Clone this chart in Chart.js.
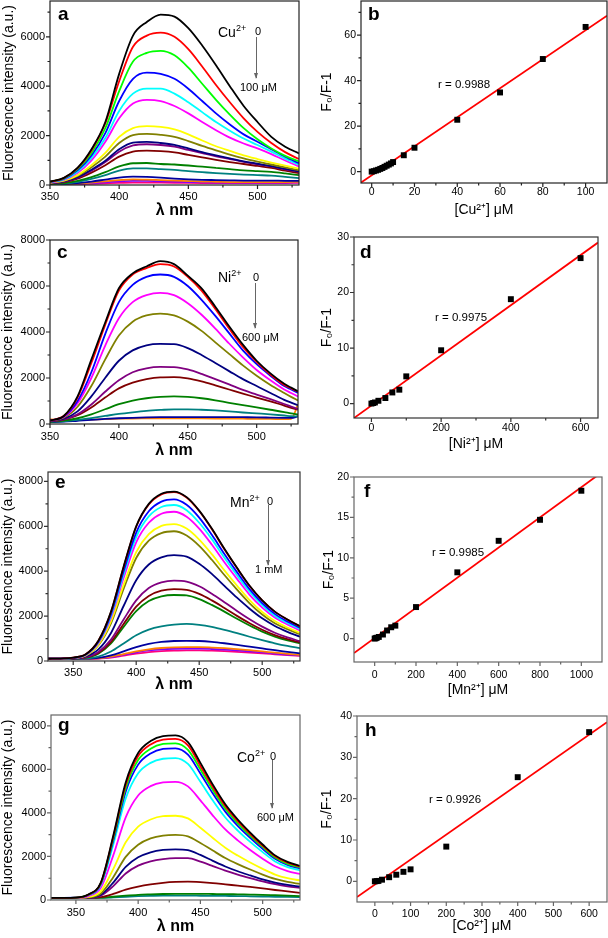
<!DOCTYPE html>
<html>
<head>
<meta charset="utf-8">
<script src="https://cdn.jsdelivr.net/npm/chart.js@4.4.0/dist/chart.umd.min.js"></script>
<style>
  body { margin: 0; background: #fff; }
  #fig { position: relative; width: 608px; height: 938px; overflow: hidden; font-family: Arial, "Liberation Sans", Helvetica, sans-serif; color: #000; }
  canvas { position: absolute; }
  .t { position: absolute; line-height: 1; white-space: nowrap; }
  .let { font-size: 19px; font-weight: bold; }
  .ion { font-size: 14px; }
  .sm { font-size: 11px; }
  .rr { font-size: 11.5px; }
  .sp { font-size: 9px; position: relative; top: -6px; }
  .arr { position: absolute; width: 0; border-left: 1.3px solid #666; }
  .arr::after { content: ''; position: absolute; left: -3.2px; bottom: -1px; border-left: 2.6px solid transparent; border-right: 2.6px solid transparent; border-top: 6px solid #666; }
</style>
</head>
<body>
<div id="fig">
  <canvas id="cA"></canvas>
  <canvas id="cB"></canvas>
  <canvas id="cC"></canvas>
  <canvas id="cD"></canvas>
  <canvas id="cE"></canvas>
  <canvas id="cF"></canvas>
  <canvas id="cG"></canvas>
  <canvas id="cH"></canvas>

  <div class="t let" style="left:58px;top:4px">a</div>
  <div class="t let" style="left:368px;top:4px">b</div>
  <div class="t let" style="left:57px;top:242px">c</div>
  <div class="t let" style="left:360px;top:242px">d</div>
  <div class="t let" style="left:55px;top:472px">e</div>
  <div class="t let" style="left:364px;top:481px">f</div>
  <div class="t let" style="left:58px;top:715px">g</div>
  <div class="t let" style="left:365px;top:720px">h</div>

  <div class="t ion" style="left:218px;top:25px">Cu<span class="sp">2+</span></div>
  <div class="t sm" style="left:255px;top:26px">0</div>
  <div class="arr" style="left:256px;top:37px;height:41px"></div>
  <div class="t sm" style="left:240px;top:82px">100 μM</div>

  <div class="t ion" style="left:218px;top:270px">Ni<span class="sp">2+</span></div>
  <div class="t sm" style="left:253px;top:272px">0</div>
  <div class="arr" style="left:255px;top:283px;height:45px"></div>
  <div class="t sm" style="left:242px;top:332px">600 μM</div>

  <div class="t ion" style="left:230px;top:495px">Mn<span class="sp">2+</span></div>
  <div class="t sm" style="left:267px;top:496px">0</div>
  <div class="arr" style="left:268px;top:505px;height:60px"></div>
  <div class="t sm" style="left:255px;top:564px">1 mM</div>

  <div class="t ion" style="left:237px;top:750px">Co<span class="sp">2+</span></div>
  <div class="t sm" style="left:270px;top:751px">0</div>
  <div class="arr" style="left:272px;top:760px;height:48px"></div>
  <div class="t sm" style="left:257px;top:812px">600 μM</div>

  <div class="t rr" style="left:438px;top:79px">r = 0.9988</div>
  <div class="t rr" style="left:435px;top:312px">r = 0.9975</div>
  <div class="t rr" style="left:432px;top:547px">r = 0.9985</div>
  <div class="t rr" style="left:429px;top:794px">r = 0.9926</div>
</div>

<script>
// ---- panel a : Cu2+ quenching spectra ----
var WL_A = [350, 360, 370, 380, 390, 400, 410, 420, 430, 440, 450, 460, 470, 480, 490, 500, 510, 520, 530];
var CU_0 = [140, 290, 700, 1450, 2550, 4500, 6050, 6600, 6900, 6820, 6350, 5650, 4850, 4000, 3200, 2550, 1950, 1550, 1280];
var CU_1 = [130, 280, 680, 1400, 2500, 4200, 5600, 6050, 6170, 6000, 5500, 4800, 4050, 3350, 2700, 2150, 1700, 1330, 1050];
var CU_2 = [130, 270, 650, 1300, 2300, 3800, 5000, 5350, 5430, 5250, 4750, 4100, 3450, 2850, 2300, 1850, 1480, 1180, 950];
var CU_3 = [120, 250, 600, 1200, 2100, 3400, 4300, 4550, 4500, 4300, 3900, 3400, 2900, 2450, 2050, 1750, 1450, 1150, 880];
var CU_4 = [110, 230, 550, 1100, 1900, 3000, 3700, 3900, 3900, 3700, 3350, 2950, 2550, 2200, 1880, 1620, 1350, 1070, 820];
var CU_5 = [100, 210, 500, 1000, 1750, 2700, 3300, 3450, 3400, 3200, 2900, 2550, 2220, 1920, 1680, 1480, 1250, 990, 750];
var CU_6 = [90, 180, 400, 800, 1300, 1950, 2300, 2380, 2350, 2250, 2050, 1800, 1570, 1380, 1200, 1050, 910, 780, 660];
var CU_7 = [80, 170, 370, 720, 1150, 1700, 2020, 2070, 2030, 1950, 1780, 1580, 1400, 1230, 1080, 950, 830, 710, 600];
var CU_8 = [70, 150, 320, 620, 980, 1450, 1720, 1750, 1700, 1620, 1480, 1330, 1200, 1080, 960, 860, 760, 650, 550];
var CU_9 = [70, 140, 300, 580, 930, 1350, 1600, 1650, 1620, 1550, 1420, 1290, 1160, 1050, 940, 840, 750, 630, 540];
var CU_10 = [60, 120, 260, 500, 800, 1150, 1350, 1390, 1370, 1320, 1220, 1120, 1020, 930, 850, 770, 690, 580, 480];
var CU_11 = [40, 80, 170, 320, 520, 750, 880, 890, 850, 830, 790, 740, 690, 640, 590, 560, 530, 470, 400];
var CU_12 = [30, 60, 130, 250, 400, 580, 670, 670, 640, 610, 560, 520, 480, 450, 420, 400, 380, 330, 280];
var CU_13 = [20, 40, 80, 140, 220, 300, 340, 330, 300, 260, 230, 210, 200, 190, 180, 180, 180, 170, 170];
var CU_14 = [20, 30, 60, 100, 150, 200, 230, 220, 200, 180, 160, 140, 130, 120, 120, 120, 120, 120, 130];
var CU_15 = [15, 25, 50, 80, 110, 150, 170, 165, 150, 140, 120, 110, 100, 100, 100, 100, 100, 100, 110];
var CU_16 = [10, 20, 30, 50, 70, 90, 100, 100, 95, 90, 85, 80, 75, 75, 75, 75, 80, 80, 90];

// ---- panel b : Cu2+ Stern-Volmer ----
var CU_X = [0, 1, 2, 3, 4, 5, 6, 7, 8, 9, 10, 15, 20, 40, 60, 80, 100];
var CU_Q = [0, 0.2, 0.5, 0.8, 1.2, 1.6, 2.1, 2.6, 3.1, 3.6, 4.2, 7.2, 10.5, 22.8, 34.8, 49.5, 63.6];
var CU_FIT_X = [-5, 110];
var CU_FIT_Y = [-4.8, 68.5];

// ---- panel c : Ni2+ quenching spectra ----
var WL_C = [350, 360, 370, 380, 390, 400, 410, 420, 430, 440, 450, 460, 470, 480, 490, 500, 510, 520, 525, 530];
var NI_0 = [150, 350, 1200, 2800, 4400, 5900, 6550, 6850, 7080, 6950, 6450, 5900, 5100, 4250, 3450, 2750, 2200, 1750, 1580, 1420];
var NI_1 = [150, 350, 1150, 2650, 4300, 5800, 6500, 6780, 6950, 6850, 6400, 5800, 5000, 4150, 3350, 2700, 2150, 1700, 1550, 1400];
var NI_2 = [150, 330, 1000, 2250, 3900, 5300, 6050, 6400, 6500, 6400, 6000, 5400, 4700, 3950, 3200, 2600, 2100, 1650, 1500, 1350];
var NI_3 = [150, 300, 900, 2000, 3400, 4600, 5300, 5600, 5700, 5600, 5250, 4750, 4150, 3500, 2900, 2350, 1900, 1500, 1350, 1200];
var NI_4 = [140, 270, 750, 1650, 2800, 3850, 4450, 4720, 4800, 4720, 4450, 4050, 3550, 3050, 2550, 2100, 1700, 1350, 1180, 1020];
var NI_5 = [130, 230, 550, 1200, 2000, 2750, 3200, 3420, 3480, 3470, 3300, 3000, 2650, 2300, 1950, 1650, 1350, 1050, 930, 820];
var NI_6 = [120, 200, 420, 850, 1400, 1900, 2250, 2420, 2480, 2470, 2370, 2180, 1950, 1720, 1480, 1280, 1080, 870, 760, 650];
var NI_7 = [120, 190, 380, 720, 1150, 1550, 1800, 1950, 2030, 2040, 1980, 1850, 1680, 1500, 1320, 1150, 980, 800, 700, 620];
var NI_8 = [100, 150, 250, 420, 640, 860, 1020, 1120, 1180, 1200, 1180, 1120, 1030, 920, 820, 720, 620, 520, 460, 420];
var NI_9 = [90, 120, 180, 260, 350, 440, 510, 570, 610, 640, 640, 620, 590, 550, 500, 460, 420, 370, 340, 330];
var NI_10 = [80, 100, 140, 180, 220, 250, 270, 285, 295, 300, 300, 300, 300, 300, 295, 290, 280, 270, 265, 330];
var NI_11 = [200, 170, 170, 190, 210, 230, 240, 245, 250, 250, 250, 245, 240, 235, 230, 225, 220, 210, 220, 850];

// ---- panel d : Ni2+ Stern-Volmer ----
var NI_X = [0, 5, 10, 20, 40, 60, 80, 100, 200, 400, 600];
var NI_Q = [0, 0.1, 0.2, 0.5, 1.0, 2.0, 2.5, 4.9, 9.6, 18.8, 26.2];
var NI_FIT_X = [-50, 650];
var NI_FIT_Y = [-2.6, 29.0];

// ---- panel e : Mn2+ quenching spectra ----
var WL_E = [330, 340, 350, 360, 370, 380, 390, 400, 410, 420, 430, 440, 450, 460, 470, 480, 490, 500, 510, 520, 530];
var MN_0 = [100, 110, 150, 300, 900, 2200, 4200, 6000, 7000, 7450, 7550, 7300, 6700, 5900, 5000, 4150, 3350, 2700, 2200, 1850, 1550];
var MN_1 = [100, 110, 150, 300, 900, 2180, 4180, 5980, 6970, 7420, 7520, 7280, 6680, 5880, 4980, 4140, 3340, 2700, 2200, 1850, 1540];
var MN_2 = [100, 110, 140, 290, 860, 2090, 4000, 5720, 6670, 7100, 7200, 6960, 6390, 5620, 4770, 3960, 3200, 2580, 2100, 1760, 1480];
var MN_3 = [100, 110, 140, 280, 830, 2010, 3860, 5520, 6440, 6860, 6950, 6720, 6160, 5430, 4600, 3820, 3090, 2490, 2020, 1700, 1420];
var MN_4 = [100, 110, 135, 270, 800, 1930, 3700, 5290, 6160, 6560, 6650, 6430, 5900, 5190, 4400, 3660, 2950, 2380, 1940, 1630, 1360];
var MN_5 = [100, 105, 130, 250, 730, 1770, 3390, 4850, 5650, 6020, 6100, 5900, 5410, 4760, 4040, 3360, 2710, 2180, 1780, 1490, 1250];
var MN_6 = [100, 105, 125, 240, 700, 1680, 3210, 4590, 5360, 5700, 5780, 5590, 5130, 4510, 3830, 3180, 2570, 2070, 1680, 1420, 1190];
var MN_7 = [100, 105, 120, 200, 520, 1250, 2450, 3600, 4300, 4620, 4720, 4650, 4330, 3880, 3350, 2820, 2330, 1900, 1560, 1300, 1080];
var MN_8 = [100, 100, 115, 170, 400, 950, 1850, 2700, 3250, 3500, 3580, 3540, 3330, 3000, 2620, 2230, 1860, 1530, 1260, 1050, 880];
var MN_9 = [100, 100, 110, 160, 360, 850, 1650, 2420, 2900, 3130, 3200, 3170, 2990, 2700, 2360, 2010, 1680, 1390, 1150, 970, 830];
var MN_10 = [100, 100, 110, 150, 330, 780, 1520, 2220, 2670, 2880, 2940, 2920, 2760, 2500, 2200, 1880, 1580, 1310, 1090, 920, 790];
var MN_11 = [100, 100, 105, 120, 200, 420, 780, 1150, 1400, 1540, 1620, 1650, 1610, 1520, 1390, 1240, 1080, 930, 790, 670, 570];
var MN_12 = [100, 100, 100, 105, 140, 250, 430, 620, 760, 850, 890, 900, 890, 850, 790, 720, 640, 560, 480, 410, 340];
var MN_13 = [100, 100, 100, 100, 120, 190, 310, 430, 520, 580, 610, 620, 620, 600, 570, 530, 480, 430, 370, 320, 270];
var MN_14 = [100, 100, 100, 100, 115, 170, 280, 390, 470, 520, 545, 550, 550, 535, 510, 475, 430, 385, 335, 290, 250];
var MN_15 = [100, 100, 100, 100, 110, 150, 240, 330, 400, 440, 460, 470, 470, 460, 440, 410, 375, 340, 300, 260, 230];

// ---- panel f : Mn2+ Stern-Volmer ----
var MN_X = [0, 5, 10, 20, 40, 60, 80, 100, 200, 400, 600, 800, 1000];
var MN_Q = [0, 0.05, 0.1, 0.2, 0.5, 1.0, 1.4, 1.6, 3.9, 8.2, 12.1, 14.7, 18.3];
var MN_FIT_X = [-100, 1100];
var MN_FIT_Y = [-1.8, 20.6];

// ---- panel g : Co2+ quenching spectra ----
var WL_G = [330, 340, 350, 360, 370, 380, 390, 400, 410, 420, 430, 440, 450, 460, 470, 480, 490, 500, 510, 520, 530];
var CO_0 = [100, 100, 110, 250, 800, 2950, 5400, 6750, 7300, 7530, 7560, 7250, 6300, 5300, 4400, 3700, 3100, 2550, 2050, 1750, 1570];
var CO_1 = [100, 100, 110, 245, 780, 2890, 5280, 6610, 7150, 7370, 7400, 7100, 6160, 5190, 4310, 3620, 3030, 2490, 2010, 1710, 1540];
var CO_2 = [100, 100, 110, 240, 760, 2810, 5140, 6430, 6950, 7170, 7200, 6900, 6000, 5050, 4190, 3520, 2950, 2430, 1950, 1660, 1500];
var CO_3 = [100, 100, 110, 230, 740, 2720, 4980, 6220, 6730, 6940, 6970, 6680, 5810, 4890, 4060, 3410, 2860, 2350, 1890, 1610, 1450];
var CO_4 = [100, 100, 105, 215, 690, 2540, 4660, 5820, 6300, 6490, 6520, 6250, 5430, 4570, 3790, 3190, 2670, 2200, 1770, 1510, 1360];
var CO_5 = [100, 100, 105, 180, 560, 2050, 3800, 4800, 5230, 5400, 5430, 5220, 4580, 3880, 3240, 2740, 2300, 1900, 1550, 1330, 1200];
var CO_6 = [100, 100, 100, 140, 400, 1420, 2650, 3370, 3700, 3850, 3870, 3750, 3320, 2850, 2400, 2040, 1720, 1430, 1170, 1000, 900];
var CO_7 = [100, 100, 100, 120, 300, 1050, 1980, 2540, 2830, 2960, 2990, 2920, 2620, 2270, 1930, 1650, 1400, 1170, 970, 830, 740];
var CO_8 = [100, 100, 100, 110, 240, 800, 1520, 1960, 2190, 2300, 2330, 2290, 2070, 1800, 1540, 1320, 1130, 950, 800, 690, 620];
var CO_9 = [100, 100, 100, 105, 200, 640, 1220, 1580, 1780, 1880, 1920, 1920, 1760, 1560, 1350, 1170, 1010, 860, 730, 630, 560];
var CO_10 = [100, 100, 100, 100, 130, 280, 480, 620, 720, 790, 830, 840, 820, 780, 720, 660, 600, 530, 460, 400, 330];
var CO_11 = [90, 90, 90, 95, 110, 150, 200, 240, 260, 275, 280, 280, 280, 275, 270, 260, 250, 240, 220, 200, 180];
var CO_12 = [80, 80, 80, 85, 95, 120, 150, 175, 190, 200, 200, 200, 195, 190, 185, 180, 170, 160, 150, 140, 130];

// ---- panel h : Co2+ Stern-Volmer ----
var CO_X = [0, 5, 10, 20, 40, 60, 80, 100, 200, 400, 600];
var CO_Q = [0, 0.05, 0.1, 0.4, 1.0, 1.6, 2.3, 2.9, 8.4, 25.2, 36.1];
var CO_FIT_X = [-50, 650];
var CO_FIT_Y = [-3.8, 38.5];

// ---- tick labels ----
var SPEC_X_TICKS = [350, 400, 450, 500];
var SPEC_X_MINOR = [375, 425, 475, 525];
var A_Y_TICKS = [0, 2000, 4000, 6000];
var A_Y_MINOR = [1000, 3000, 5000, 7000];
var SPEC_Y_TICKS = [0, 2000, 4000, 6000, 8000];
var SPEC_Y_MINOR = [1000, 3000, 5000, 7000];
var B_X_TICKS = [0, 20, 40, 60, 80, 100];
var B_X_MINOR = [10, 30, 50, 70, 90];
var B_Y_TICKS = [0, 20, 40, 60];
var B_Y_MINOR = [10, 30, 50, 70];
var D_X_TICKS = [0, 200, 400, 600];
var D_X_MINOR = [100, 300, 500];
var D_Y_TICKS = [0, 10, 20, 30];
var D_Y_MINOR = [5, 15, 25];
var F_X_TICKS = [0, 200, 400, 600, 800, 1000];
var F_X_MINOR = [100, 300, 500, 700, 900];
var F_Y_TICKS = [0, 5, 10, 15, 20];
var F_Y_MINOR = [2.5, 7.5, 12.5, 17.5];
var H_X_TICKS = [0, 100, 200, 300, 400, 500, 600];
var H_X_MINOR = [50, 150, 250, 350, 450, 550];
var H_Y_TICKS = [0, 10, 20, 30, 40];
var H_Y_MINOR = [5, 15, 25, 35];

var BLACK = '#000000', RED = '#ff0000', LIME = '#00ff00', BLUE = '#0000ff', CYAN = '#00ffff',
    MAGENTA = '#ff00ff', YELLOW = '#ffff00', OLIVE = '#808000', NAVY = '#000080', PURPLE = '#800080',
    WINE = '#800000', GREEN = '#008000', TEAL = '#008080', ROYAL = '#0000a0', ORANGE = '#ff8000',
    VIOLET = '#8000ff', PINK = '#ff0080';

var FONT = 'Arial, "Liberation Sans", Helvetica, sans-serif';

var framePlugin = {
  id: 'frame',
  afterDatasetsDraw: function(chart, args, opt) {
    var a = chart.chartArea, c = chart.ctx;
    var xs = chart.scales.x, ys = chart.scales.y;
    c.save();
    c.strokeStyle = opt.color;
    c.lineWidth = 1.2;
    c.strokeRect(a.left, a.top, a.right - a.left, a.bottom - a.top);
    c.beginPath();
    xs.ticks.forEach(function(t) {
      var p = xs.getPixelForValue(t.value);
      c.moveTo(p, a.bottom); c.lineTo(p, a.bottom + 4);
    });
    opt.xMinor.forEach(function(v) {
      var p = xs.getPixelForValue(v);
      c.moveTo(p, a.bottom); c.lineTo(p, a.bottom + 2.5);
    });
    ys.ticks.forEach(function(t) {
      var p = ys.getPixelForValue(t.value);
      c.moveTo(a.left, p); c.lineTo(a.left - 4, p);
    });
    opt.yMinor.forEach(function(v) {
      var p = ys.getPixelForValue(v);
      c.moveTo(a.left, p); c.lineTo(a.left - 2.5, p);
    });
    c.stroke();
    c.restore();
  }
};

function spectra(wl, curves, colors) {
  return curves.map(function(vals, i) {
    return {
      data: vals.map(function(v, j) { return { x: wl[j], y: v }; }),
      showLine: true,
      borderColor: colors[i],
      borderWidth: 1.8,
      pointRadius: 0,
      cubicInterpolationMode: 'monotone',
      fill: false
    };
  });
}

function stern(xs, ys, fitX, fitY) {
  return [
    {
      data: xs.map(function(x, i) { return { x: x, y: ys[i] }; }),
      showLine: false,
      pointStyle: 'rect',
      pointRadius: 4.2,
      backgroundColor: '#000',
      borderColor: '#000',
      borderWidth: 0
    },
    {
      data: fitX.map(function(x, i) { return { x: x, y: fitY[i] }; }),
      showLine: true,
      borderColor: '#ff0000',
      borderWidth: 1.8,
      pointRadius: 0
    }
  ];
}

function panel(id, o) {
  var cv = document.getElementById(id);
  var cx = o.canvas[0], cy = o.canvas[1], cw = o.canvas[2], ch = o.canvas[3];
  cv.width = cw; cv.height = ch;
  cv.style.left = cx + 'px'; cv.style.top = cy + 'px';
  cv.style.width = cw + 'px'; cv.style.height = ch + 'px';
  var yW = o.plot[0] - cx, xH = cy + ch - o.plot[3];
  var tickFont = { family: FONT, size: o.tickSize };
  var fmt = function(v) { return String(v); };

  new Chart(cv, {
    type: 'scatter',
    data: { datasets: o.datasets },
    options: {
      responsive: false,
      animation: false,
      events: [],
      layout: { autoPadding: false, padding: { left: 0, top: o.plot[1] - cy, right: cx + cw - o.plot[2], bottom: 0 } },
      plugins: {
        legend: { display: false },
        tooltip: { enabled: false },
        frame: { color: o.frame, xMinor: o.xMinor, yMinor: o.yMinor }
      },
      scales: {
        x: {
          type: 'linear', position: 'bottom', min: o.xRange[0], max: o.xRange[1],
          afterBuildTicks: function(s) { s.ticks = o.xTicks.map(function(v) { return { value: v }; }); },
          afterFit: function(s) { s.height = xH; s.paddingLeft = 0; s.paddingRight = 0; },
          grid: { display: false, drawTicks: false },
          border: { display: false },
          ticks: { font: tickFont, color: '#000', padding: o.xPad, maxRotation: 0, autoSkip: false, callback: fmt },
          title: { display: true, text: o.xTitle, color: '#000', font: o.xTitleFont, padding: { top: 0, bottom: o.xTitlePad } }
        },
        y: {
          type: 'linear', position: 'left', min: o.yRange[0], max: o.yRange[1],
          afterBuildTicks: function(s) { s.ticks = o.yTicks.map(function(v) { return { value: v }; }); },
          afterFit: function(s) { s.width = yW; s.paddingTop = 0; s.paddingBottom = 0; },
          grid: { display: false, drawTicks: false },
          border: { display: false },
          ticks: { font: tickFont, color: '#000', padding: 5, autoSkip: false, callback: fmt },
          title: { display: true, text: o.yTitle, color: '#000', font: o.yTitleFont, padding: { top: o.yTitlePad, bottom: 0 } }
        }
      }
    },
    plugins: [framePlugin]
  });
}

var SPEC_YTITLE = 'Fluorescence intensity (a.u.)';
var SPEC_XTITLE = 'λ nm';
var SV_YTITLE = 'F₀/F-1';
var specXFont = { family: FONT, size: 16, weight: 'bold' };
var specYFont = { family: FONT, size: 14 };
var svFont = { family: FONT, size: 14 };

panel('cA', {
  canvas: [0, 0, 305, 225], plot: [50, 1, 299, 185],
  xRange: [350, 530], yRange: [0, 7450],
  xTicks: SPEC_X_TICKS, xMinor: SPEC_X_MINOR, yTicks: A_Y_TICKS, yMinor: A_Y_MINOR,
  tickSize: 11, xPad: 5, frame: '#222',
  xTitle: SPEC_XTITLE, xTitleFont: specXFont, xTitlePad: 5,
  yTitle: SPEC_YTITLE, yTitleFont: specYFont, yTitlePad: 1,
  datasets: spectra(WL_A,
    [CU_0, CU_1, CU_2, CU_3, CU_4, CU_5, CU_6, CU_7, CU_8, CU_9, CU_10, CU_11, CU_12, CU_13, CU_14, CU_15, CU_16],
    [BLACK, RED, LIME, BLUE, CYAN, MAGENTA, YELLOW, OLIVE, NAVY, PURPLE, WINE, GREEN, TEAL, ROYAL, ORANGE, VIOLET, PINK])
});

panel('cB', {
  canvas: [305, 0, 303, 225], plot: [361, 1, 607, 183],
  xRange: [-5, 110], yRange: [-5, 75],
  xTicks: B_X_TICKS, xMinor: B_X_MINOR, yTicks: B_Y_TICKS, yMinor: B_Y_MINOR,
  tickSize: 10.5, xPad: 3, frame: '#222',
  xTitle: '[Cu²⁺] μM', xTitleFont: svFont, xTitlePad: 6,
  yTitle: SV_YTITLE, yTitleFont: svFont, yTitlePad: 13.6,
  datasets: stern(CU_X, CU_Q, CU_FIT_X, CU_FIT_Y)
});

panel('cC', {
  canvas: [0, 228, 305, 234], plot: [50, 240, 298, 424],
  xRange: [350, 530], yRange: [0, 8000],
  xTicks: SPEC_X_TICKS, xMinor: SPEC_X_MINOR, yTicks: SPEC_Y_TICKS, yMinor: SPEC_Y_MINOR,
  tickSize: 11, xPad: 6.5, frame: '#222',
  xTitle: SPEC_XTITLE, xTitleFont: specXFont, xTitlePad: 1.5,
  yTitle: SPEC_YTITLE, yTitleFont: specYFont, yTitlePad: 0,
  datasets: spectra(WL_C,
    [NI_0, NI_1, NI_2, NI_3, NI_4, NI_5, NI_6, NI_7, NI_8, NI_9, NI_10, NI_11],
    [BLACK, RED, BLUE, MAGENTA, OLIVE, NAVY, PURPLE, WINE, GREEN, TEAL, ROYAL, ORANGE])
});

panel('cD', {
  canvas: [305, 228, 303, 234], plot: [354, 237, 598, 418],
  xRange: [-50, 650], yRange: [-2.6, 30],
  xTicks: D_X_TICKS, xMinor: D_X_MINOR, yTicks: D_Y_TICKS, yMinor: D_Y_MINOR,
  tickSize: 10.5, xPad: 4, frame: '#333',
  xTitle: '[Ni²⁺] μM', xTitleFont: svFont, xTitlePad: 9,
  yTitle: SV_YTITLE, yTitleFont: svFont, yTitlePad: 13.6,
  datasets: stern(NI_X, NI_Q, NI_FIT_X, NI_FIT_Y)
});

panel('cE', {
  canvas: [0, 465, 305, 238], plot: [48, 472, 300, 661],
  xRange: [330, 530], yRange: [0, 8420],
  xTicks: SPEC_X_TICKS, xMinor: SPEC_X_MINOR, yTicks: SPEC_Y_TICKS, yMinor: SPEC_Y_MINOR,
  tickSize: 11, xPad: 5, frame: '#333',
  xTitle: SPEC_XTITLE, xTitleFont: specXFont, xTitlePad: 8.4,
  yTitle: SPEC_YTITLE, yTitleFont: specYFont, yTitlePad: 0,
  datasets: spectra(WL_E,
    [MN_0, MN_1, MN_2, MN_3, MN_4, MN_5, MN_6, MN_7, MN_8, MN_9, MN_10, MN_11, MN_12, MN_13, MN_14, MN_15],
    [BLACK, RED, BLUE, CYAN, MAGENTA, YELLOW, OLIVE, NAVY, PURPLE, WINE, GREEN, TEAL, ROYAL, ORANGE, VIOLET, PINK])
});

panel('cF', {
  canvas: [305, 465, 303, 238], plot: [354, 477, 602, 662],
  xRange: [-100, 1100], yRange: [-2.9, 20],
  xTicks: F_X_TICKS, xMinor: F_X_MINOR, yTicks: F_Y_TICKS, yMinor: F_Y_MINOR,
  tickSize: 10.5, xPad: 7, frame: '#666',
  xTitle: '[Mn²⁺] μM', xTitleFont: svFont, xTitlePad: 4.6,
  yTitle: SV_YTITLE, yTitleFont: svFont, yTitlePad: 15.6,
  datasets: stern(MN_X, MN_Q, MN_FIT_X, MN_FIT_Y)
});

panel('cG', {
  canvas: [0, 705, 305, 233], plot: [51, 715, 300, 900],
  xRange: [330, 530], yRange: [0, 8500],
  xTicks: SPEC_X_TICKS, xMinor: SPEC_X_MINOR, yTicks: SPEC_Y_TICKS, yMinor: SPEC_Y_MINOR,
  tickSize: 11, xPad: 6, frame: '#666',
  xTitle: SPEC_XTITLE, xTitleFont: specXFont, xTitlePad: 1.7,
  yTitle: SPEC_YTITLE, yTitleFont: specYFont, yTitlePad: 0,
  datasets: spectra(WL_G,
    [CO_0, CO_1, CO_2, CO_3, CO_4, CO_5, CO_6, CO_7, CO_8, CO_9, CO_10, CO_11, CO_12],
    [BLACK, RED, LIME, BLUE, CYAN, MAGENTA, YELLOW, OLIVE, NAVY, PURPLE, WINE, GREEN, TEAL])
});

panel('cH', {
  canvas: [305, 705, 303, 233], plot: [357, 716, 607, 902],
  xRange: [-50, 650], yRange: [-5, 40],
  xTicks: H_X_TICKS, xMinor: H_X_MINOR, yTicks: H_Y_TICKS, yMinor: H_Y_MINOR,
  tickSize: 10.5, xPad: 5.5, frame: '#666',
  xTitle: '[Co²⁺] μM', xTitleFont: svFont, xTitlePad: 3,
  yTitle: SV_YTITLE, yTitleFont: svFont, yTitlePad: 13.6,
  datasets: stern(CO_X, CO_Q, CO_FIT_X, CO_FIT_Y)
});
</script>
</body>
</html>
